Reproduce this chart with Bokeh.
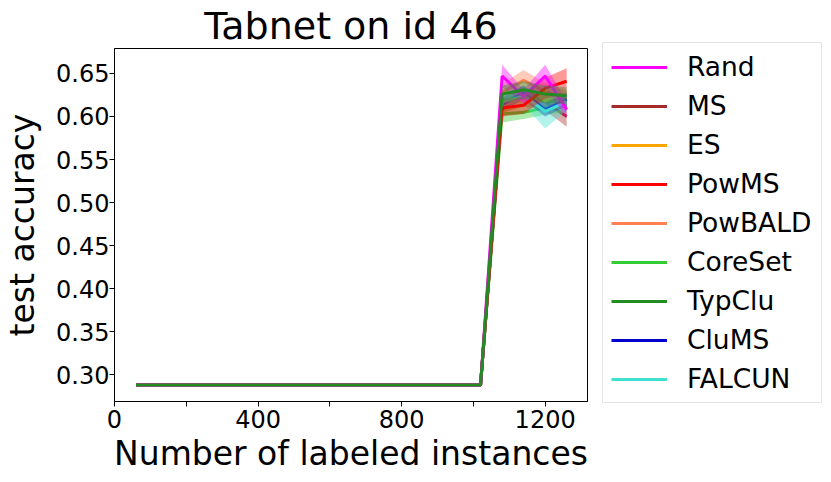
from bokeh.plotting import figure
from bokeh.models import Range1d, FixedTicker, PrintfTickFormatter, Legend, LegendItem, ColumnDataSource
from bokeh.embed import file_html
from bokeh.resources import INLINE

# ---- data ----
xs = [60, 1020, 1080, 1140, 1200, 1260]
names = ["Rand", "MS", "ES", "PowMS", "PowBALD", "CoreSet", "TypClu", "CluMS", "FALCUN"]
colors = ["#ff00ff", "#a52a2a", "#ffa500", "#ff0000", "#ff7f50", "#32cd32", "#228b22", "#0000cd", "#40e0d0"]

rand = [0.288, 0.288, 0.647, 0.623, 0.647, 0.608]
ms = [0.288, 0.288, 0.612, 0.620, 0.617, 0.600]
es = [0.288, 0.288, 0.612, 0.620, 0.618, 0.619]
powms = [0.288, 0.288, 0.610, 0.613, 0.633, 0.641]
powbald = [0.288, 0.288, 0.628, 0.642, 0.629, 0.620]
coreset = [0.288, 0.288, 0.603, 0.605, 0.610, 0.613]
typclu = [0.288, 0.288, 0.626, 0.631, 0.626, 0.624]
clums = [0.288, 0.288, 0.614, 0.628, 0.608, 0.620]
falcun = [0.288, 0.288, 0.617, 0.624, 0.606, 0.617]

rand_sd = [0.0005, 0.0005, 0.013, 0.008, 0.013, 0.010]
ms_sd = [0.0005, 0.0005, 0.008, 0.008, 0.010, 0.012]
es_sd = [0.0005, 0.0005, 0.008, 0.008, 0.008, 0.008]
powms_sd = [0.0005, 0.0005, 0.010, 0.010, 0.012, 0.015]
powbald_sd = [0.0005, 0.0005, 0.010, 0.012, 0.010, 0.010]
coreset_sd = [0.0005, 0.0005, 0.010, 0.008, 0.008, 0.008]
typclu_sd = [0.0005, 0.0005, 0.010, 0.010, 0.010, 0.010]
clums_sd = [0.0005, 0.0005, 0.008, 0.008, 0.008, 0.008]
falcun_sd = [0.0005, 0.0005, 0.008, 0.010, 0.020, 0.010]

means = [rand, ms, es, powms, powbald, coreset, typclu, clums, falcun]
sds = [rand_sd, ms_sd, es_sd, powms_sd, powbald_sd, coreset_sd, typclu_sd, clums_sd, falcun_sd]
draw_order = ["MS", "ES", "PowBALD", "CoreSet", "CluMS", "FALCUN", "PowMS", "Rand", "TypClu"]

x_major = [0, 400, 800, 1200]
x_minor = [200, 600, 1000]
y_ticks = [0.30, 0.35, 0.40, 0.45, 0.50, 0.55, 0.60, 0.65]

FONT = "DejaVu Sans"

p = figure(frame_width=473, frame_height=353, output_backend="svg", toolbar_location=None,
           x_range=Range1d(0, 1318), y_range=Range1d(0.2688, 0.679),
           min_border_left=108, min_border_right=234, min_border_top=39, min_border_bottom=74,
           title="Tabnet on id 46")
p.grid.visible = False
p.outline_line_color = "black"
p.outline_line_width = 1
p.outline_line_alpha = 1

p.title.text_font = FONT
p.title.text_font_size = "38px"
p.title.text_font_style = "normal"
p.title.align = "center"
p.title.text_color = "black"
p.title.standoff = 2

for ax in (p.xaxis[0], p.yaxis[0]):
    ax.axis_label_text_font = FONT
    ax.axis_label_text_font_size = "33px"
    ax.axis_label_text_font_style = "normal"
    ax.axis_label_text_color = "black"
    ax.major_label_text_font = FONT
    ax.major_label_text_font_size = "24px"
    ax.major_label_text_color = "black"
    ax.major_tick_out = 5
    ax.major_tick_in = 0
    ax.minor_tick_out = 5
    ax.minor_tick_in = 0
    ax.axis_line_color = "black"
    ax.major_tick_line_color = "black"
    ax.minor_tick_line_color = "black"

p.xaxis[0].axis_label = "Number of labeled instances"
p.yaxis[0].axis_label = "test accuracy"
p.xaxis[0].ticker = FixedTicker(ticks=x_major, minor_ticks=x_minor)
p.yaxis[0].ticker = FixedTicker(ticks=y_ticks, minor_ticks=[])
p.yaxis[0].formatter = PrintfTickFormatter(format="%.2f")
p.xaxis[0].major_label_standoff = 3
p.xaxis[0].axis_label_standoff = 3
p.yaxis[0].major_label_standoff = 0
p.yaxis[0].axis_label_standoff = 11

renderers = {}
for name in draw_order:
    i = names.index(name)
    col, m, s = colors[i], means[i], sds[i]
    lo = [a - b for a, b in zip(m, s)]
    hi = [a + b for a, b in zip(m, s)]
    src = ColumnDataSource(dict(x=xs, y=m, lo=lo, hi=hi))
    p.varea(x="x", y1="lo", y2="hi", source=src, fill_color=col, fill_alpha=0.4)
    renderers[name] = p.line(x="x", y="y", source=src, line_color=col, line_width=3)

items = [LegendItem(label=n, renderers=[renderers[n]]) for n in names]

legend = Legend(items=items, location=(15, -2))
legend.label_text_font = FONT
legend.label_text_font_size = "26.5px"
legend.label_text_color = "black"
legend.glyph_width = 56
legend.glyph_height = 30
legend.label_height = 30
legend.label_width = 126
legend.spacing = 8
legend.padding = 8
legend.margin = 0
legend.label_standoff = 20
legend.border_line_color = "#cccccc"
legend.border_line_width = 1
legend.background_fill_alpha = 1
p.add_layout(legend, "right")

open("out.html", "w").write(file_html(p, INLINE))
